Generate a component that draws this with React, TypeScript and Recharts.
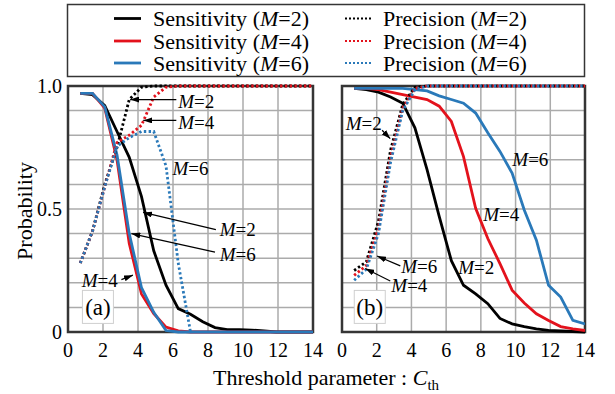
import React from "react";
import {
  CartesianGrid,
  Line,
  LineChart,
  ReferenceArea,
  ReferenceDot,
  ReferenceLine,
  XAxis,
  YAxis,
} from "recharts";

const FONT = "Liberation Serif, Tinos, Times New Roman, Nimbus Roman, DejaVu Serif, serif";
const BLACK = "#000000";
const RED = "#e3121c";
const BLUE = "#2a79b9";
const GRID = "#ababab";
const FRAME = "#353535";

// threshold parameter C_th sampled in the figure
const thresholds = [0.7, 1.4, 2.1, 2.8, 3.5, 4.2, 4.9, 5.6, 6.3, 7.0, 7.7, 8.4, 9.1, 9.8, 10.5, 11.2, 11.9, 12.6, 13.3, 14.0];
const xTicks = [0, 2, 4, 6, 8, 10, 12, 14];
const yTicks = [0, 0.1, 0.2, 0.3, 0.4, 0.5, 0.6, 0.7, 0.8, 0.9, 1];

// panel (a)
const sensM2A = [0.97, 0.965, 0.92, 0.815, 0.71, 0.55, 0.33, 0.19, 0.095, 0.072, 0.042, 0.018, 0.01, 0.01, 0.008, 0.004, 0, 0, 0, 0];
const sensM4A = [0.97, 0.97, 0.91, 0.7, 0.36, 0.155, 0.075, 0.02, 0.005, 0, 0, 0, 0, 0, 0, 0, 0, 0, 0, 0];
const sensM6A = [0.97, 0.97, 0.915, 0.72, 0.4, 0.18, 0.08, 0.006, 0, 0, 0, 0, 0, 0, 0, 0, 0, 0, 0, 0];
const precM2A = [0.28, 0.41, 0.6, 0.75, 0.945, 0.995, 1, 1, 1, 1, 1, 1, 1, 1, 1, 1, 1, 1, 1, 1];
const precM4A = [0.28, 0.41, 0.59, 0.77, 0.8, 0.84, 0.955, 0.995, 1, 1, 1, 1, 1, 1, 1, 1, 1, 1, 1, 1];
const precM6A = [0.28, 0.41, 0.59, 0.755, 0.79, 0.815, 0.815, 0.675, 0.28, 0, null, null, null, null, null, null, null, null, null, null];

// panel (b)
const sensM2B = [0.99, 0.985, 0.975, 0.955, 0.93, 0.83, 0.66, 0.47, 0.29, 0.19, 0.155, 0.115, 0.055, 0.033, 0.022, 0.013, 0.007, 0.004, 0.002, 0];
const sensM4B = [0.99, 0.99, 0.985, 0.975, 0.965, 0.955, 0.945, 0.918, 0.856, 0.713, 0.503, 0.38, 0.278, 0.17, 0.118, 0.074, 0.047, 0.022, 0.013, 0.006];
const sensM6B = [0.99, 0.99, 0.99, 0.99, 0.99, 0.985, 0.98, 0.96, 0.945, 0.93, 0.89, 0.81, 0.734, 0.646, 0.496, 0.373, 0.19, 0.142, 0.047, 0.033];
const precM2B = [0.25, 0.285, 0.45, 0.74, 0.925, 0.995, 1, 1, 1, 1, 1, 1, 1, 1, 1, 1, 1, 1, 1, 1];
const precM4B = [0.23, 0.27, 0.42, 0.71, 0.91, 0.99, 1, 1, 1, 1, 1, 1, 1, 1, 1, 1, 1, 1, 1, 1];
const precM6B = [0.21, 0.255, 0.4, 0.69, 0.9, 0.985, 1, 1, 1, 1, 1, 1, 1, 1, 1, 1, 1, 1, 1, 1];

type Series = { key: string; metric: string; m: number; color: string; dotted: boolean };

const series: Series[] = [
  { key: "sensM2", metric: "Sensitivity", m: 2, color: BLACK, dotted: false },
  { key: "sensM4", metric: "Sensitivity", m: 4, color: RED, dotted: false },
  { key: "sensM6", metric: "Sensitivity", m: 6, color: BLUE, dotted: false },
  { key: "precM2", metric: "Precision", m: 2, color: BLACK, dotted: true },
  { key: "precM4", metric: "Precision", m: 4, color: RED, dotted: true },
  { key: "precM6", metric: "Precision", m: 6, color: BLUE, dotted: true },
];

const rowsA = thresholds.map((x, i) => ({
  x,
  sensM2: sensM2A[i],
  sensM4: sensM4A[i],
  sensM6: sensM6A[i],
  precM2: precM2A[i],
  precM4: precM4A[i],
  precM6: precM6A[i],
}));

const rowsB = thresholds.map((x, i) => ({
  x,
  sensM2: sensM2B[i],
  sensM4: sensM4B[i],
  sensM6: sensM6B[i],
  precM2: precM2B[i],
  precM4: precM4B[i],
  precM6: precM6B[i],
}));

type Note = { m: number; x: number; y: number; arrow?: [number, number, number, number] };

// label position, optional arrow [fromX, fromY, toX, toY] in data units
const notesA: Note[] = [
  { m: 2, x: 7.33, y: 0.938, arrow: [6.19, 0.945, 3.55, 0.945] },
  { m: 4, x: 7.33, y: 0.851, arrow: [6.19, 0.86, 4.3, 0.86] },
  { m: 6, x: 7.0, y: 0.663 },
  { m: 2, x: 9.7, y: 0.418, arrow: [8.45, 0.416, 4.29, 0.486] },
  { m: 6, x: 9.7, y: 0.316, arrow: [8.4, 0.325, 3.62, 0.4] },
  { m: 4, x: 1.81, y: 0.21, arrow: [3.05, 0.213, 3.71, 0.231] },
];

const notesB: Note[] = [
  { m: 2, x: 1.25, y: 0.847, arrow: [2.31, 0.82, 2.78, 0.786] },
  { m: 6, x: 4.45, y: 0.268, arrow: [3.36, 0.269, 2.02, 0.309] },
  { m: 4, x: 3.88, y: 0.188, arrow: [2.78, 0.207, 1.34, 0.258] },
  { m: 2, x: 7.73, y: 0.264 },
  { m: 4, x: 9.17, y: 0.476 },
  { m: 6, x: 10.85, y: 0.7 },
];

function fmtY(v: number): string {
  if (v === 0) return "0";
  if (v === 0.5) return "0.5";
  if (v === 1) return "1.0";
  return "";
}

const tickStyle = { fontSize: 20, fill: "#000", style: { fontFamily: FONT } };
const textStyle = { fontFamily: FONT };

function Panel({
  rows,
  notes,
  tag,
  tagX,
  showY,
  width,
  margin,
  markerId,
}: {
  rows: any[];
  notes: Note[];
  tag: string;
  tagX: number;
  showY: boolean;
  width: number;
  margin: { top: number; right: number; bottom: number; left: number };
  markerId: string;
}) {
  return (
    <LineChart width={width} height={394} data={rows} margin={margin} style={textStyle}>
      <defs>
        <marker
          id={markerId}
          markerWidth={9}
          markerHeight={6}
          refX={9}
          refY={3}
          orient="auto"
          markerUnits="userSpaceOnUse"
        >
          <path d="M0,0 L9,3 L0,6 z" fill="#000" />
        </marker>
      </defs>
      <CartesianGrid stroke={GRID} strokeWidth={1.5} horizontalValues={yTicks} verticalValues={xTicks} />
      <XAxis
        type="number"
        dataKey="x"
        domain={[0, 14]}
        ticks={xTicks}
        interval={0}
        allowDataOverflow
        tickSize={0}
        tickMargin={11}
        axisLine={false}
        tick={tickStyle}
        height={30}
      />
      <YAxis
        type="number"
        domain={[0, 1]}
        ticks={yTicks}
        interval={0}
        hide={!showY}
        width={40}
        tickSize={0}
        tickMargin={6}
        axisLine={false}
        tickFormatter={fmtY}
        tick={tickStyle}
      />
      <ReferenceArea x1={0} x2={14} y1={0} y2={1} fill="none" fillOpacity={0} stroke={FRAME} strokeWidth={2.5} />
      <ReferenceDot
        x={tagX}
        y={0.102}
        r={0}
        shape={(p: any) => (
          <g>
            <rect x={p.cx - 15.5} y={p.cy - 16.5} width={31} height={33} fill="#fff" stroke="#cfcfcf" strokeWidth={1} />
            <text x={p.cx} y={p.cy + 8} textAnchor="middle" fontSize={23} style={textStyle} fill="#000">
              {tag}
            </text>
          </g>
        )}
      />
      {series.map((s) => (
        <Line
          key={s.key}
          dataKey={s.key}
          type="linear"
          stroke={s.color}
          strokeWidth={2.8}
          strokeDasharray={s.dotted ? "2.4 2.4" : undefined}
          dot={false}
          activeDot={false}
          connectNulls={false}
          isAnimationActive={false}
        />
      ))}
      {notes
        .filter((n) => n.arrow)
        .map((n, i) => {
          const a = n.arrow as [number, number, number, number];
          return (
            <ReferenceLine
              key={`arrow-${i}`}
              segment={[
                { x: a[0], y: a[1] },
                { x: a[2], y: a[3] },
              ]}
              shape={(p: any) => (
                <line
                  x1={p.x1}
                  y1={p.y1}
                  x2={p.x2}
                  y2={p.y2}
                  stroke="#000"
                  strokeWidth={1.2}
                  markerEnd={`url(#${markerId})`}
                />
              )}
            />
          );
        })}
      {notes.map((n, i) => (
        <ReferenceDot
          key={`note-${i}`}
          x={n.x}
          y={n.y}
          r={0}
          shape={(p: any) => (
            <text x={p.cx} y={p.cy + 6.5} textAnchor="middle" fontSize={19} style={textStyle} fill="#000">
              <tspan fontStyle="italic">M</tspan>={n.m}
            </text>
          )}
        />
      ))}
    </LineChart>
  );
}

const legendRows = [
  [series[0], series[3]],
  [series[1], series[4]],
  [series[2], series[5]],
];

function Legend() {
  const rowY = [18.5, 41, 63];
  return (
    <svg width={615} height={80} style={{ position: "absolute", left: 0, top: 0 }}>
      <rect x={67.5} y={4.5} width={517} height={72} fill="none" stroke={FRAME} strokeWidth={1.5} />
      {legendRows.map((row, r) =>
        row.map((s, c) => {
          const lx = c === 0 ? 114 : 345;
          const tx = c === 0 ? 153 : 383;
          return (
            <g key={s.key}>
              <line
                x1={lx}
                x2={lx + 27}
                y1={rowY[r]}
                y2={rowY[r]}
                stroke={s.color}
                strokeWidth={s.dotted ? 2 : 2.8}
                strokeDasharray={s.dotted ? "2 2" : undefined}
              />
              <text x={tx} y={rowY[r] + 7.5} fontSize={22} style={textStyle} fill="#000">
                {s.metric} (<tspan fontStyle="italic">M</tspan>={s.m})
              </text>
            </g>
          );
        }),
      )}
    </svg>
  );
}

export default function App() {
  return (
    <div
      style={{
        position: "absolute",
        left: 0,
        top: 0,
        width: 615,
        height: 394,
        background: "#fff",
        fontFamily: FONT,
      }}
    >
      <div style={{ position: "absolute", left: 0, top: 0 }}>
        <Panel
          rows={rowsA}
          notes={notesA}
          tag="(a)"
          tagX={1.71}
          showY
          width={330}
          margin={{ top: 86, right: 17, bottom: 32, left: 28 }}
          markerId="arrowA"
        />
      </div>
      <div style={{ position: "absolute", left: 330, top: 0 }}>
        <Panel
          rows={rowsB}
          notes={notesB}
          tag="(b)"
          tagX={1.6}
          showY={false}
          width={285}
          margin={{ top: 86, right: 30, bottom: 32, left: 12 }}
          markerId="arrowB"
        />
      </div>
      <Legend />
      <svg width={615} height={394} style={{ position: "absolute", left: 0, top: 0, pointerEvents: "none" }}>
        <text
          x={32}
          y={211}
          transform="rotate(-90 32 211)"
          textAnchor="middle"
          fontSize={22}
          style={textStyle}
          fill="#000"
        >
          Probability
        </text>
        <text x={326} y={385} textAnchor="middle" fontSize={22} style={textStyle} fill="#000">
          Threshold parameter : <tspan fontStyle="italic">C</tspan>
          <tspan fontSize={15} dy={5}>
            th
          </tspan>
        </text>
      </svg>
    </div>
  );
}
